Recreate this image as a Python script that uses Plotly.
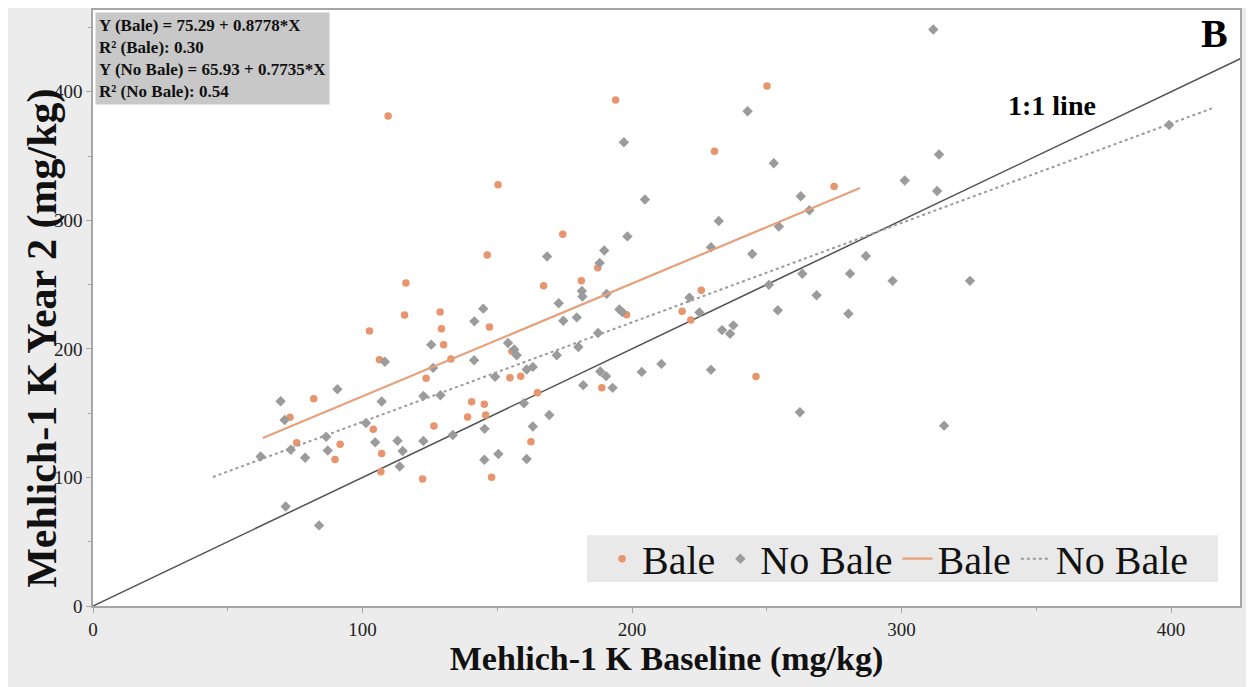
import plotly.graph_objects as go

# ---- data ----
bale_x = [109.5, 193.9, 250.1, 230.6, 150.3, 174.3, 275.0, 116.1, 146.3, 167.2,
          181.2, 187.3, 225.7, 102.6, 115.6, 128.8, 129.3, 130.1, 106.3, 123.6,
          132.8, 147.1, 154.7, 158.7, 155.4, 198.0, 218.6, 221.8, 164.9, 188.8,
          246.0, 140.5, 145.2, 139.0, 145.7, 126.5, 162.5, 122.3, 147.9, 104.0,
          107.1, 106.8, 81.9, 73.1, 75.6, 91.7, 89.8]
bale_y = [381.2, 393.6, 404.4, 353.7, 327.6, 289.2, 326.4, 251.2, 273.0, 249.2,
          252.9, 263.2, 245.6, 214.0, 226.4, 228.7, 215.6, 203.3, 191.6, 177.2,
          192.2, 217.0, 177.5, 178.8, 198.1, 226.5, 229.3, 222.4, 165.9, 169.7,
          178.6, 158.9, 156.9, 147.1, 148.6, 140.1, 127.7, 98.8, 100.1, 137.5,
          118.7, 104.5, 161.2, 146.8, 126.9, 125.9, 114.0]

nobale_x = [311.8, 242.9, 197.0, 252.6, 313.9, 301.2, 313.2, 399.3, 204.8, 262.6,
            232.2, 265.8, 254.5, 198.3, 189.7, 188.0, 168.5, 229.3, 244.6, 263.2,
            280.9, 286.8, 296.7, 325.4, 250.8, 268.5, 221.3, 225.0, 254.1, 280.3,
            237.6, 233.4, 236.4, 203.6, 210.9, 229.3, 262.3, 315.8, 181.4, 181.6,
            190.6, 172.8, 144.8, 141.5, 174.5, 179.5, 195.3, 196.4, 187.4, 125.5,
            154.0, 156.3, 157.2, 141.4, 108.3, 126.2, 149.2, 160.9, 163.2, 172.1,
            180.1, 122.6, 128.9, 159.9, 188.2, 190.4, 181.9, 192.8, 169.3, 145.3,
            133.5, 122.6, 163.2, 145.2, 150.4, 160.9, 69.6, 90.7, 71.1, 107.1,
            101.3, 86.5, 73.4, 62.2, 78.7, 87.1, 104.7, 113.0, 114.9, 113.8,
            71.5, 83.9]
nobale_y = [448.4, 384.9, 360.7, 344.4, 351.2, 331.0, 322.8, 374.1, 316.2, 318.7,
            299.5, 307.8, 295.2, 287.5, 276.5, 266.9, 271.9, 279.0, 273.8, 258.4,
            258.5, 272.2, 252.9, 252.9, 249.8, 241.7, 239.9, 228.3, 230.1, 227.3,
            218.3, 214.6, 211.8, 182.1, 188.3, 183.7, 150.7, 140.3, 245.1, 240.7,
            242.8, 235.5, 231.3, 221.4, 221.9, 224.5, 230.7, 228.6, 212.3, 203.3,
            204.6, 199.5, 195.0, 191.2, 190.0, 185.2, 178.3, 184.0, 186.0, 195.0,
            201.5, 163.3, 163.9, 157.7, 182.4, 178.8, 171.8, 169.7, 148.6, 137.8,
            133.0, 128.3, 139.6, 113.8, 118.2, 114.3, 159.3, 168.6, 144.7, 159.1,
            142.4, 131.7, 121.5, 116.3, 115.3, 121.0, 127.3, 128.5, 120.6, 108.5,
            77.4, 62.7]

# fitted regressions (from the equations printed on the chart)
bale_a, bale_b = 75.29, 0.8778
nobale_a, nobale_b = 65.93, 0.7735
bale_fit_x = [63, 284.6]
nobale_fit_x = [44.5, 416.3]
one_to_one_x = [0, 430]

eq_lines = ["Y (Bale) = 75.29 + 0.8778*X",
            "R² (Bale): 0.30",
            "Y (No Bale) = 65.93 + 0.7735*X",
            "R² (No Bale): 0.54"]

SERIF = "Liberation Serif"
ORANGE = "#E8946C"
ORANGE_LINE = "#E6A07A"
GRAY = "#9b9b9b"

fig = go.Figure()

fig.add_trace(go.Scatter(x=one_to_one_x, y=one_to_one_x, mode="lines",
                         line=dict(color="#505050", width=1.5),
                         showlegend=False, hoverinfo="skip"))

fig.add_trace(go.Scatter(x=bale_x, y=bale_y, mode="markers", name="Bale",
                         marker=dict(symbol="circle", size=7.5, color=ORANGE)))
fig.add_trace(go.Scatter(x=nobale_x, y=nobale_y, mode="markers", name="No Bale",
                         marker=dict(symbol="diamond", size=8, color=GRAY)))

fig.add_trace(go.Scatter(x=bale_fit_x, y=[bale_a + bale_b * v for v in bale_fit_x],
                         mode="lines", name="Bale",
                         line=dict(color=ORANGE_LINE, width=2.2)))
fig.add_trace(go.Scatter(x=nobale_fit_x, y=[nobale_a + nobale_b * v for v in nobale_fit_x],
                         mode="lines", name="No Bale",
                         line=dict(color=GRAY, width=2, dash="dot")))

axis_common = dict(showline=True, mirror=True, linecolor="#a6a6a6", linewidth=1.5,
                   showgrid=False, zeroline=False, ticks="outside", ticklen=5,
                   tickcolor="#a6a6a6", dtick=100,
                   minor=dict(dtick=50, ticks="outside", ticklen=3, tickcolor="#a6a6a6"),
                   tickfont=dict(family=SERIF, size=19, color="#222222"))

fig.update_layout(
    width=1254, height=687,
    margin=dict(l=85, r=22, t=0, b=89),
    paper_bgcolor="#ececec", plot_bgcolor="white",
    xaxis=dict(range=[0, 425.6], **axis_common,
               title=dict(text="<b>Mehlich-1 K Baseline (mg/kg)</b>",
                          font=dict(family=SERIF, size=34, color="#111111"),
                          standoff=6)),
    yaxis=dict(range=[0, 463.6], **axis_common),
    legend=dict(orientation="h", x=0.4438, xanchor="left", y=0.0794, yanchor="middle",
                bgcolor="rgba(0,0,0,0)", font=dict(family=SERIF, size=40, color="#111111"),
                itemwidth=30, tracegroupgap=0),
    showlegend=True,
)

# grey legend panel
fig.add_shape(type="rect", xref="paper", yref="paper",
              x0=0.4307, x1=0.9808, y0=0.0401, y1=0.1187,
              fillcolor="#e9e9e9", line=dict(width=0), layer="below")

fig.add_annotation(text="<b>Mehlich-1 K Year 2 (mg/kg)</b>", textangle=-90,
                   xref="paper", yref="paper", x=-0.0436, y=0.450,
                   xanchor="center", yanchor="middle",
                   showarrow=False, font=dict(family=SERIF, size=42, color="#111111"))

fig.add_annotation(text="<br>".join("<b>%s</b>" % s for s in eq_lines),
                   xref="paper", yref="paper", x=0.0015, y=0.997,
                   xanchor="left", yanchor="top", align="left", showarrow=False,
                   bgcolor="#c8c8c8", borderpad=3,
                   font=dict(family=SERIF, size=17, color="#111111"))

fig.add_annotation(text="<b>B</b>", xref="paper", yref="paper", x=0.978, y=1.0,
                   xanchor="center", yanchor="top", borderpad=0,
                   showarrow=False, font=dict(family=SERIF, size=40, color="#000000"))

fig.add_annotation(text="<b>1:1 line</b>", xref="paper", yref="paper", x=0.836, y=0.840,
                   xanchor="center", yanchor="middle",
                   showarrow=False, font=dict(family=SERIF, size=28, color="#000000"))

fig.write_html("out.html")
